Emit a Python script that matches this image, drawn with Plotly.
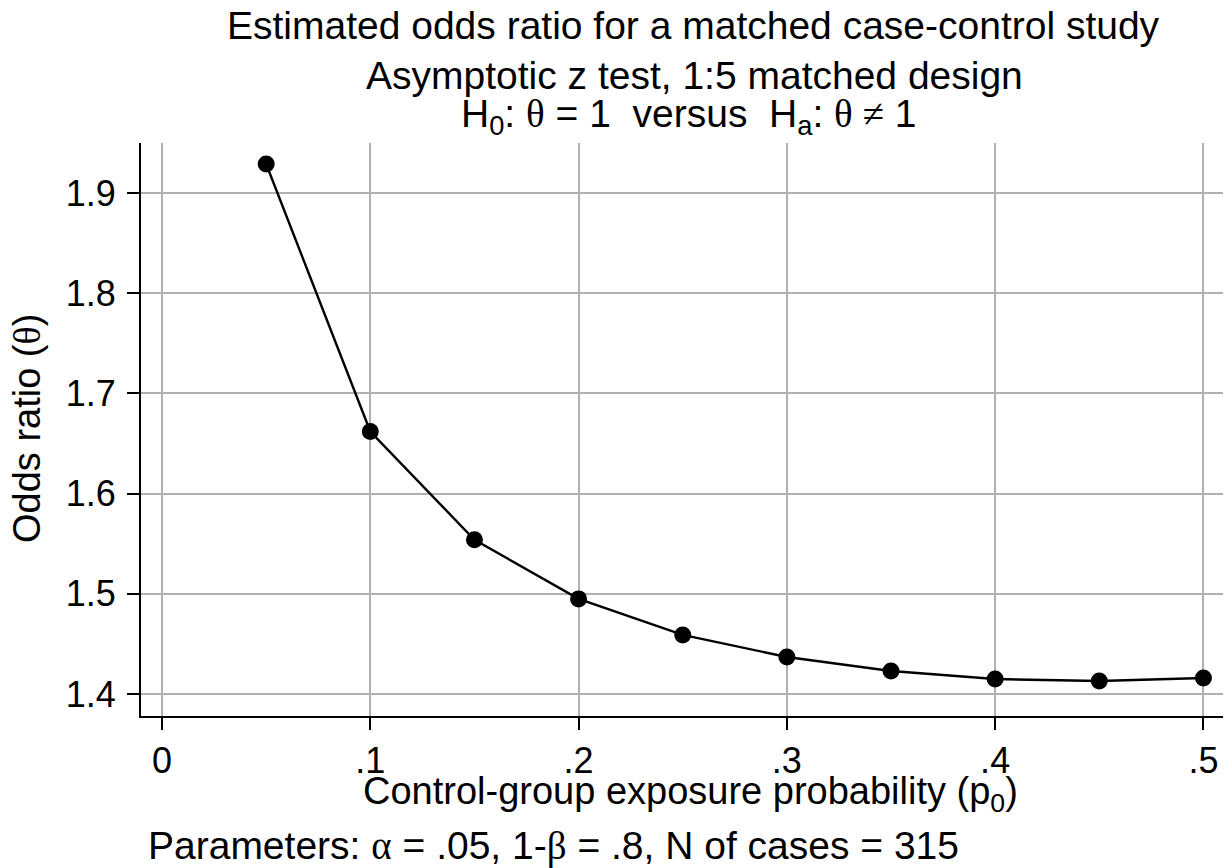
import plotly.graph_objects as go

p0 = [0.05, 0.10, 0.15, 0.20, 0.25, 0.30, 0.35, 0.40, 0.45, 0.50]
odds_ratio = [1.929, 1.662, 1.554, 1.495, 1.459, 1.437, 1.423, 1.415, 1.413, 1.416]
x_ticks = [0, 0.1, 0.2, 0.3, 0.4, 0.5]
x_ticklabels = ["0", ".1", ".2", ".3", ".4", ".5"]
y_ticks = [1.4, 1.5, 1.6, 1.7, 1.8, 1.9]
y_ticklabels = ["1.4", "1.5", "1.6", "1.7", "1.8", "1.9"]

W, H = 1232, 868
L, R, T, B = 141, 1223, 143, 716
FONT = "Liberation Sans, Arial, sans-serif"
GREEK = "font-family:'Liberation Serif', 'DejaVu Serif', serif"
KS = 36  # tick size

def px(x):
    return (x - L) / (R - L)

def py(y):
    return (B - y) / (B - T)

fig = go.Figure()
fig.add_trace(go.Scatter(
    x=p0, y=odds_ratio, mode="lines+markers",
    line=dict(color="black", width=2.4),
    marker=dict(color="black", size=17),
    showlegend=False, cliponaxis=False,
))

fig.update_layout(
    width=W, height=H,
    margin=dict(l=L, r=W - R, t=T, b=H - B),
    paper_bgcolor="white", plot_bgcolor="white",
    font=dict(family=FONT, color="black", size=KS),
    xaxis=dict(range=[-0.0101, 0.5094], tickvals=x_ticks, ticktext=x_ticklabels,
               showgrid=True, gridcolor="#b0b0b0", gridwidth=2.2,
               showline=True, linecolor="black", linewidth=2,
               ticks="outside", ticklen=12, tickwidth=2, tickcolor="black",
               tickfont=dict(size=KS), zeroline=False),
    yaxis=dict(range=[1.3781, 1.95], tickvals=y_ticks, ticktext=y_ticklabels,
               showgrid=True, gridcolor="#b0b0b0", gridwidth=2.2,
               showline=True, linecolor="black", linewidth=2,
               ticks="outside", ticklen=12, tickwidth=2, tickcolor="black",
               tickfont=dict(size=KS), zeroline=False, ticklabelstandoff=4),
)

ann = [
    dict(text="Estimated odds ratio for a matched case-control study", x=693, y=26, s=39),
    dict(text="Asymptotic z test, 1:5 matched design", x=694, y=75, s=39),
    dict(text=f"H<sub>0</sub>: <span style=\"{GREEK}\">θ</span> = 1  versus  H<sub>a</sub>: <span style=\"{GREEK}\">θ ≠</span> 1", x=688, y=116, s=39),
    dict(text="Control-group exposure probability (p<sub>0</sub>)", x=690, y=794, s=38),
]
for a in ann:
    fig.add_annotation(text=a["text"], x=px(a["x"]), y=py(a["y"]), xref="paper", yref="paper",
                       showarrow=False, xanchor="center", yanchor="middle",
                       font=dict(size=a["s"], family=FONT, color="black"))

fig.add_annotation(text=f"Parameters: <span style=\"{GREEK}\">α</span> = .05, 1-<span style=\"{GREEK}\">β</span> = .8, N of cases = 315",
                   x=px(146), y=py(846), xref="paper", yref="paper", showarrow=False,
                   xanchor="left", yanchor="middle", font=dict(size=39, family=FONT, color="black"))
fig.add_annotation(text=f"Odds ratio (<span style=\"{GREEK}\">θ</span>)", x=px(27), y=py(429),
                   xref="paper", yref="paper", showarrow=False, textangle=-90,
                   xanchor="center", yanchor="middle", font=dict(size=38, family=FONT, color="black"))

fig.write_html("out.html", config={"displayModeBar": False},
               post_script="document.body.style.margin='0px';document.body.style.overflow='hidden';")
